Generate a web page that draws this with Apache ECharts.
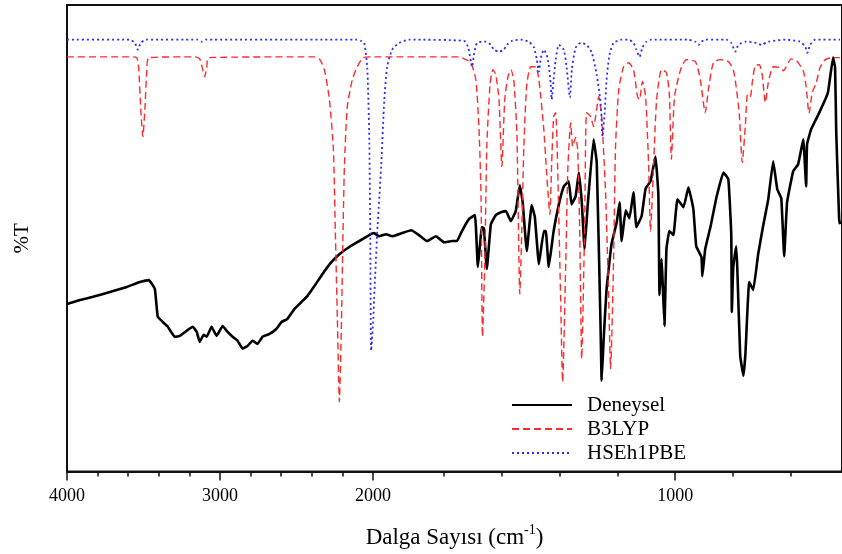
<!DOCTYPE html>
<html><head><meta charset="utf-8">
<script src="https://cdn.jsdelivr.net/npm/echarts@6/dist/echarts.min.js"></script>
<style>html,body{margin:0;padding:0;background:#fff}#c{width:842px;height:554px}</style>
</head><body><div id="c"></div>
<script>
// ---- data: [wavenumber (cm-1), transmittance (arb. %T)] ----
const deneysel = [[4000,42],[3915,43],[3830,43.8],[3720,45],[3609,46.3],[3524,47.5],[3465,48],[3426,45.8],[3407,38.8],[3374,37.5],[3341,36.3],[3296,33.8],[3263,34],[3218,35.3],[3178,36.3],[3152,35],[3133,32.5],[3107,34.3],[3087,33.8],[3055,36.3],[3022,34],[2983,36.5],[2950,35],[2918,33.8],[2885,32.8],[2852,30.8],[2820,31.5],[2787,32.8],[2755,32],[2722,33.8],[2676,34.5],[2631,35.8],[2598,37.5],[2559,38.3],[2513,40.8],[2468,42.5],[2429,44],[2383,46.5],[2331,49.5],[2272,52.5],[2220,54.5],[2155,56.3],[2090,57.8],[2025,59.3],[1997,59.8],[1983,59],[1963,59.5],[1946,59],[1918,59.8],[1892,60.5],[1870,59.3],[1847,57.8],[1822,59],[1799,57.5],[1771,57.8],[1754,57.8],[1737,60.3],[1713,63.3],[1692,64.3],[1682,51.3],[1668,61.3],[1661,61],[1651,50.8],[1637,62],[1620,64.3],[1602,65],[1585,65.3],[1568,62.8],[1551,65.3],[1537,71.8],[1527,67.5],[1513,55.3],[1496,66.8],[1485,63.8],[1471,52],[1454,60.3],[1447,60.3],[1437,51.3],[1420,60.3],[1402,67],[1385,71.5],[1368,72.8],[1358,67],[1344,69],[1333,75],[1323,67.8],[1313,55.8],[1302,67],[1282,83.3],[1271,77.5],[1258,37],[1254,22.8],[1247,33.3],[1237,45.8],[1220,57],[1202,62.5],[1192,67.5],[1185,57.8],[1171,65.5],[1158,63.5],[1144,70],[1134,61.3],[1116,64],[1102,71],[1085,72.8],[1068,79],[1058,69.5],[1054,44.3],[1047,53.3],[1044,49],[1037,36.5],[1030,55.8],[1020,60.3],[1006,59.3],[992,68.3],[971,66.3],[954,71.3],[937,65.8],[927,56.5],[909,53.8],[906,49],[896,55.8],[878,61.3],[857,68.8],[833,75],[816,73.3],[806,59.5],[804,40],[799,51.3],[789,56.5],[785,50.8],[775,29],[764,24],[757,29.5],[744,47.5],[730,45.5],[713,54.5],[696,61.5],[678,68.3],[661,77.8],[647,70.8],[633,68.5],[623,54],[613,67.5],[592,75.3],[575,77],[557,83.3],[547,71.5],[544,82],[530,85.8],[505,89.5],[481,93.3],[471,95.3],[454,103.8],[447,101.3],[443,85],[433,63.3],[430,62]];

const b3lyp = [[4000,104],[3589,104],[3544,103.8],[3531,100.8],[3518,90.8],[3504,84],[3491,90.8],[3478,100.8],[3465,103.8],[3165,104],[3133,103.5],[3113,100.8],[3100,99],[3087,101.3],[3074,103.8],[2383,104],[2350,103.5],[2318,100.8],[2285,93.3],[2259,80.8],[2246,60],[2233,38.3],[2220,17.5],[2207,35.8],[2200,51.5],[2187,76.5],[2168,91.5],[2135,98.3],[2103,101.5],[2064,103.8],[2012,104],[1926,104],[1800,104],[1747,104],[1723,103.3],[1706,102.5],[1689,98.3],[1678,85.8],[1671,69],[1666,33.8],[1658,52.5],[1651,81.5],[1640,97],[1630,100.8],[1620,99.5],[1609,93.3],[1599,76.5],[1589,93.3],[1578,99],[1568,100.8],[1558,98.3],[1547,84.5],[1537,44.5],[1530,60.8],[1523,81.5],[1513,97],[1499,101.5],[1482,101.5],[1471,98.3],[1454,85.8],[1444,74.5],[1433,64.5],[1427,77],[1420,89],[1413,90],[1406,75.8],[1396,44],[1389,22.5],[1378,52.5],[1371,75.8],[1361,87.5],[1354,81.5],[1344,83.8],[1337,80.8],[1330,60.8],[1323,28.3],[1313,60.8],[1306,90],[1292,89],[1282,86.5],[1275,89],[1264,94],[1254,89],[1240,69],[1230,44],[1223,25.8],[1213,52.5],[1206,81.5],[1195,95.8],[1178,101.5],[1161,102.5],[1144,100.8],[1130,94],[1123,93.3],[1113,97.8],[1102,94],[1092,77.5],[1085,60.3],[1075,75.8],[1064,93.3],[1047,100.8],[1030,100],[1020,94.5],[1013,78.3],[1002,94],[981,100.8],[961,103.3],[930,102.8],[913,98.3],[896,90],[885,95.8],[868,102.5],[844,103.3],[816,102.8],[799,100.8],[789,96.5],[778,89.5],[768,77.5],[757,87],[750,94.5],[740,94],[733,97.8],[723,101.8],[709,102],[699,99.5],[688,92.5],[678,97.5],[661,101.5],[637,101.3],[626,100.5],[616,101.5],[599,103.5],[578,102.8],[557,100.5],[547,96.5],[537,89.8],[526,95],[512,97.5],[499,101.3],[481,103.3],[454,103.8],[430,103.8]];

const hseh1pbe = [[4000,108.3],[3589,108.3],[3557,107.5],[3537,105.8],[3518,107.5],[3485,108.3],[3146,108.3],[3120,107.8],[3094,108.3],[2109,108.3],[2077,108],[2057,107.5],[2038,101.5],[2025,85],[2018,60],[2012,30.3],[1999,38.3],[1997,43.3],[1988,60],[1977,76.5],[1968,93.3],[1960,101.5],[1946,105.8],[1926,107.5],[1898,108.3],[1730,108],[1716,106.5],[1706,102.8],[1702,101.5],[1696,104.3],[1685,107.5],[1654,107.8],[1637,107],[1627,105.8],[1609,105.3],[1592,105.8],[1582,107],[1564,108],[1533,108.3],[1506,107.8],[1489,106.5],[1478,103.3],[1471,100.3],[1464,103.8],[1454,105.8],[1444,104.5],[1437,102],[1430,97],[1427,93.3],[1420,98.3],[1413,103.3],[1402,107],[1385,105.8],[1375,101.3],[1364,93.8],[1357,100.8],[1344,106.3],[1326,107.5],[1306,107],[1288,105],[1271,99.5],[1257,92],[1251,84],[1244,89.5],[1237,98.3],[1227,104.5],[1213,107.5],[1185,108.3],[1161,108.3],[1144,107.5],[1134,105.8],[1123,104],[1113,106.3],[1099,107.8],[1082,108.3],[954,108.3],[930,107.8],[919,107],[909,107.8],[896,108.3],[823,108.3],[806,107.5],[792,105.3],[781,107],[757,107.8],[719,107.5],[702,107],[678,107.8],[619,108.3],[568,107.8],[550,106.5],[543,105],[533,107],[516,108.3],[430,108.3]];

const seriesNames = ['Deneysel', 'B3LYP', 'HSEh1PBE'];
const labelTicks = [4000, 3000, 2000, 1000];
const minorTicks = [4000,3800,3600,3400,3200,3000,2800,2600,2400,2200,2000,1800,1600,1400,1200,1000,800,600];

// ---- piecewise (broken) wavenumber scale: compressed above 2000 cm-1 ----
const SCALE = [[4000, 0], [2000, 306.8], [1800, 377.7], [0, 377.7 + 1800 * 0.29]];
function toAxis(w) {
  for (let i = 0; i < SCALE.length - 1; i++) {
    const [w0, p0] = SCALE[i], [w1, p1] = SCALE[i + 1];
    if (w >= w1 || i === SCALE.length - 2) return p0 + (w0 - w) * (p1 - p0) / (w0 - w1);
  }
}
function fromAxis(p) {
  for (let i = 0; i < SCALE.length - 1; i++) {
    const [w0, p0] = SCALE[i], [w1, p1] = SCALE[i + 1];
    if (p <= p1 || i === SCALE.length - 2) return w0 - (p - p0) * (w0 - w1) / (p1 - p0);
  }
}
const conv = arr => arr.map(d => [toAxis(d[0]), d[1]]);

const FONT = 'Liberation Serif';
const chart = echarts.init(document.getElementById('c'), null, { renderer: 'canvas' });
chart.setOption({
  animation: false,
  backgroundColor: '#fff',
  grid: { left: 67, right: -2, top: 5, bottom: 81, show: true, borderColor: '#111', borderWidth: 2, backgroundColor: 'transparent' },
  legend: {
    data: seriesNames, orient: 'vertical', left: 506, top: 388,
    itemWidth: 60, itemHeight: 14, itemGap: 0,
    itemStyle: { opacity: 0, color: 'transparent', borderWidth: 0 },
    textStyle: { fontFamily: FONT, fontSize: 21, lineHeight: 24, color: '#000', padding: [0, 0, 0, 10] }
  },
  xAxis: [{
    type: 'value', min: 0, max: 777,
    axisLine: { show: true, lineStyle: { color: '#111', width: 2 } },
    axisTick: { show: true, customValues: minorTicks.map(toAxis), length: 5, lineStyle: { color: '#111', width: 1.5 } },
    axisLabel: {
      customValues: labelTicks.map(toAxis), margin: 16,
      formatter: v => String(Math.round(fromAxis(v) / 100) * 100),
      fontFamily: FONT, fontSize: 18, color: '#000'
    },
    splitLine: { show: false },
    name: '{a|Dalga Sayısı (cm}{s|-1}{a|)}', nameLocation: 'middle', nameGap: 52,
    nameTextStyle: {
      rich: {
        a: { fontFamily: FONT, fontSize: 23, color: '#000' },
        s: { fontFamily: FONT, fontSize: 14, color: '#000', padding: [0, 0, 14, 0] }
      }
    }
  }, {
    type: 'value', min: 0, max: 777, position: 'bottom',
    axisLine: { show: false },
    axisTick: { show: true, customValues: labelTicks.map(toAxis), length: 9, lineStyle: { color: '#111', width: 1.5 } },
    axisLabel: { show: false }, splitLine: { show: false }
  }],
  yAxis: {
    type: 'value', min: 0, max: 117,
    axisLine: { show: true, lineStyle: { color: '#111', width: 2 } },
    axisTick: { show: false }, axisLabel: { show: false }, splitLine: { show: false },
    name: '%T', nameLocation: 'middle', nameGap: 34,
    nameTextStyle: { fontFamily: FONT, fontSize: 21, color: '#000' }
  },
  series: [
    { name: seriesNames[0], type: 'line', data: conv(deneysel), showSymbol: false, symbol: 'none', smooth: 0.1,
      lineStyle: { color: '#000', width: 2.6, type: 'solid' }, itemStyle: { color: '#000' } },
    { name: seriesNames[1], type: 'line', data: conv(b3lyp), showSymbol: false, symbol: 'none', smooth: 0.2,
      lineStyle: { color: '#ff2a2a', width: 1.4, type: [7, 4] }, itemStyle: { color: '#ff2a2a' } },
    { name: seriesNames[2], type: 'line', data: conv(hseh1pbe), showSymbol: false, symbol: 'none', smooth: 0.2,
      lineStyle: { color: '#2a2aff', width: 1.8, type: [2, 3] }, itemStyle: { color: '#2a2aff' } }
  ]
});
</script></body></html>
